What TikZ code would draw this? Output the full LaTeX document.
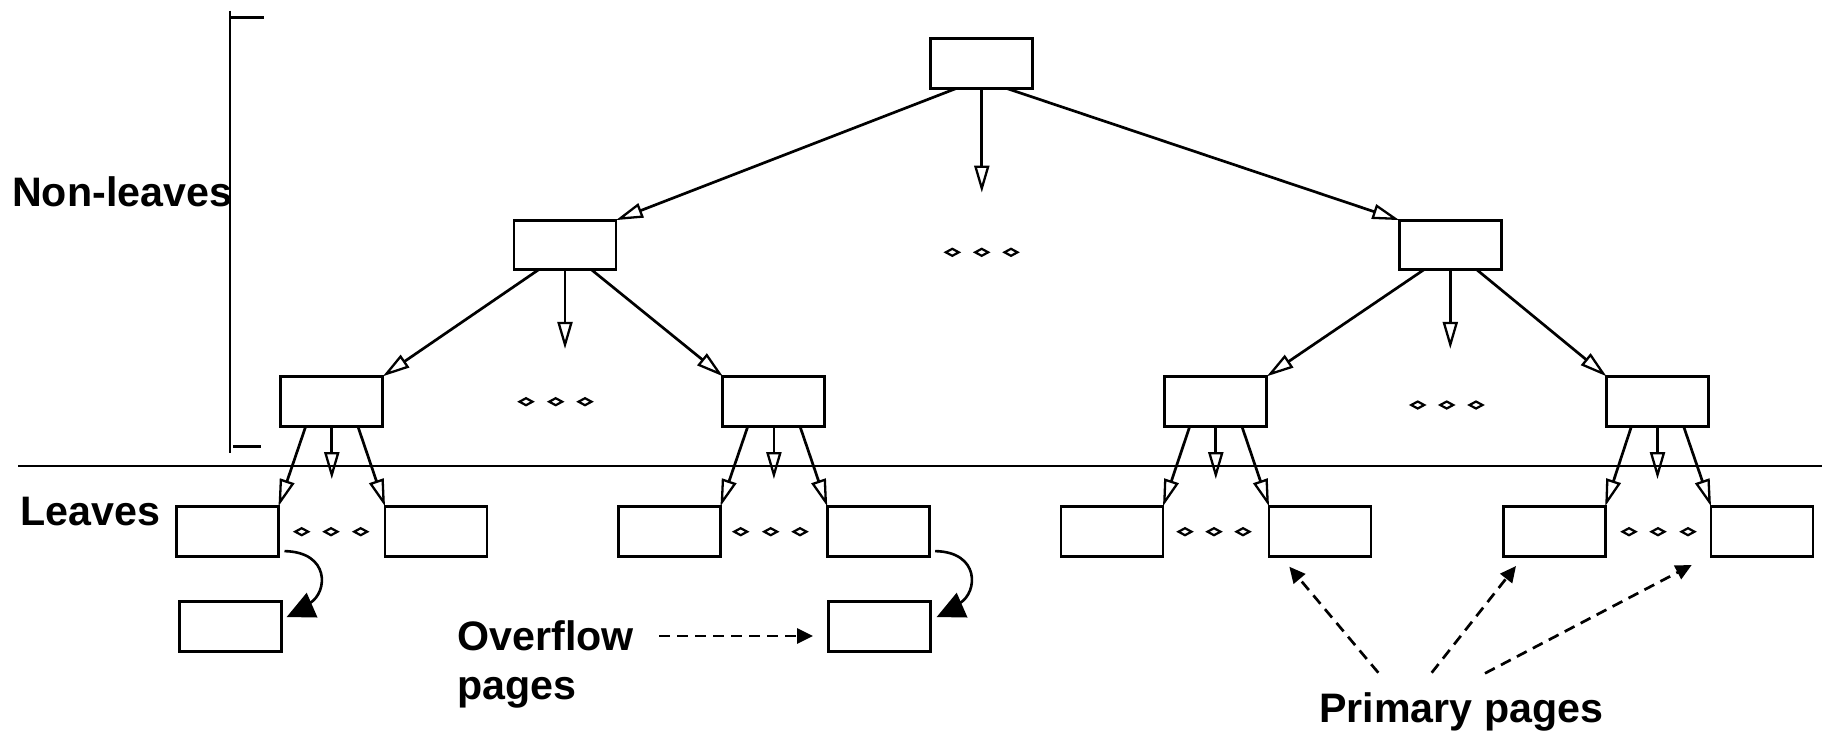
\documentclass[tikz,border=0pt]{standalone}
\usepackage{fontspec}
\setmainfont{Liberation Sans}
\usetikzlibrary{arrows.meta}
\begin{document}
\begin{tikzpicture}[x=1pt,y=-1pt,
  pg/.style={draw, line width=2.9pt, minimum width=102pt, minimum height=49.8pt, inner sep=0pt, outer sep=0pt},
  openarr/.style={line width=2.7pt, -{Triangle[open, length=27pt, width=15pt, line width=2.3pt]}},
  dasharr/.style={line width=2.7pt, dash pattern=on 11pt off 7pt, -{Triangle[length=16pt, width=15pt]}},
  lbl/.style={font=\bfseries\fontsize{41.2}{49}\selectfont, inner sep=0pt, anchor=base west},
  dia/.pic={\draw[line width=2.2pt] (-6.5,0)--(0,-3.5)--(6.5,0)--(0,3.5)--cycle;}
]
\useasboundingbox (0,0) rectangle (1825,732);
% bracket and separator
\draw[line width=2.6pt] (230,10.7) -- (230,452.7);
\draw[line width=2.6pt] (231,17.7) -- (264,17.7);
\draw[line width=2.6pt] (233,446.7) -- (260.7,446.7);
\draw[line width=2.9pt] (18.3,466) -- (1821.7,466);
% nodes
\node[pg] (r)  at (981.8,63.7) {};
\node[pg] (a1) at (565,245) {};
\node[pg] (a2) at (1450.3,245) {};
\node[pg] (b1) at (331.8,401.2) {};
\node[pg] (b2) at (773.9,401.2) {};
\node[pg] (b3) at (1215.8,401.2) {};
\node[pg] (b4) at (1657.5,401.2) {};
\node[pg] (l1) at (227.5,531.2) {};
\node[pg] (l2) at (436,531.2) {};
\node[pg] (l3) at (669.5,531.2) {};
\node[pg] (l4) at (878.2,531.2) {};
\node[pg] (l5) at (1112,531.2) {};
\node[pg] (l6) at (1320,531.2) {};
\node[pg] (l7) at (1554.2,531.2) {};
\node[pg] (l8) at (1762,531.2) {};
\node[pg] (o1) at (230.2,626.3) {};
\node[pg] (o2) at (879.3,626.3) {};
% root arrows
\draw[openarr] ([xshift=-26pt]r.south) -- (a1.north east);
\draw[openarr] (r.south) -- ++(0,104);
\draw[openarr] ([xshift=25.5pt]r.south) -- (a2.north west);
% level 1 arrows
\draw[openarr] ([xshift=-26.7pt]a1.south) -- (b1.north east);
\draw[openarr] (a1.south) -- ++(0,79);
\draw[openarr] ([xshift=26.7pt]a1.south) -- (b2.north west);
\draw[openarr] ([xshift=-26.7pt]a2.south) -- (b3.north east);
\draw[openarr] (a2.south) -- ++(0,79);
\draw[openarr] ([xshift=26.7pt]a2.south) -- (b4.north west);
% level 2 arrows
\draw[openarr] ([xshift=-26pt]b1.south) -- (l1.north east);
\draw[openarr] (b1.south) -- ++(0,53);
\draw[openarr] ([xshift=26pt]b1.south) -- (l2.north west);
\draw[openarr] ([xshift=-26pt]b2.south) -- (l3.north east);
\draw[openarr] (b2.south) -- ++(0,53);
\draw[openarr] ([xshift=26pt]b2.south) -- (l4.north west);
\draw[openarr] ([xshift=-26pt]b3.south) -- (l5.north east);
\draw[openarr] (b3.south) -- ++(0,53);
\draw[openarr] ([xshift=26pt]b3.south) -- (l6.north west);
\draw[openarr] ([xshift=-26pt]b4.south) -- (l7.north east);
\draw[openarr] (b4.south) -- ++(0,53);
\draw[openarr] ([xshift=26pt]b4.south) -- (l8.north west);
% ellipsis diamonds
\foreach \x in {952.3,981.7,1011} \pic at (\x,252.3) {dia};
\foreach \x in {526,555.7,585} \pic at (\x,401.7) {dia};
\foreach \x in {1417.7,1446.7,1476} \pic at (\x,405) {dia};
\foreach \x in {301.7,331,360.7,740.7,770.7,800,1185,1214,1243,1629,1658,1688} \pic at (\x,531.7) {dia};
% overflow curves
\draw[line width=2.6pt] ([xshift=6pt,yshift=5pt]l1.south east) .. controls (330,552) and (328,592) .. (310,603);
\fill (286.7,617) -- (317.5,617.5) -- (306.7,592.7) -- cycle;
\draw[line width=2.6pt] ([xshift=6pt,yshift=5pt]l4.south east) .. controls (980,552) and (978,592) .. (960,603);
\fill (936.7,617) -- (967.5,617.5) -- (956.7,592.7) -- cycle;
% labels
\node[lbl] (nl) at (12,206.7) {Non-leaves};
\node[lbl] (lv) at (20,525.7) {Leaves};
\node[lbl] (ov) at (457.5,650) {Overflow};
\node[lbl] (ovp) at (457,699) {pages};
\node[lbl] (pp) at (1319,722.7) {Primary pages};
% dashed arrows
\coordinate (of) at (659,636);
\coordinate (oft) at (813,636);
\draw[dasharr] (of) -- (oft);
\coordinate (p1) at (1378.3,672.7);
\coordinate (p1t) at (1289.3,566.7);
\coordinate (p2) at (1431.7,672.7);
\coordinate (p2t) at (1516,566);
\coordinate (p3) at (1485,673.3);
\coordinate (p3t) at (1691.7,565);
\draw[dasharr] (p1) -- (p1t);
\draw[dasharr] (p2) -- (p2t);
\draw[dasharr] (p3) -- (p3t);
\end{tikzpicture}
\end{document}
